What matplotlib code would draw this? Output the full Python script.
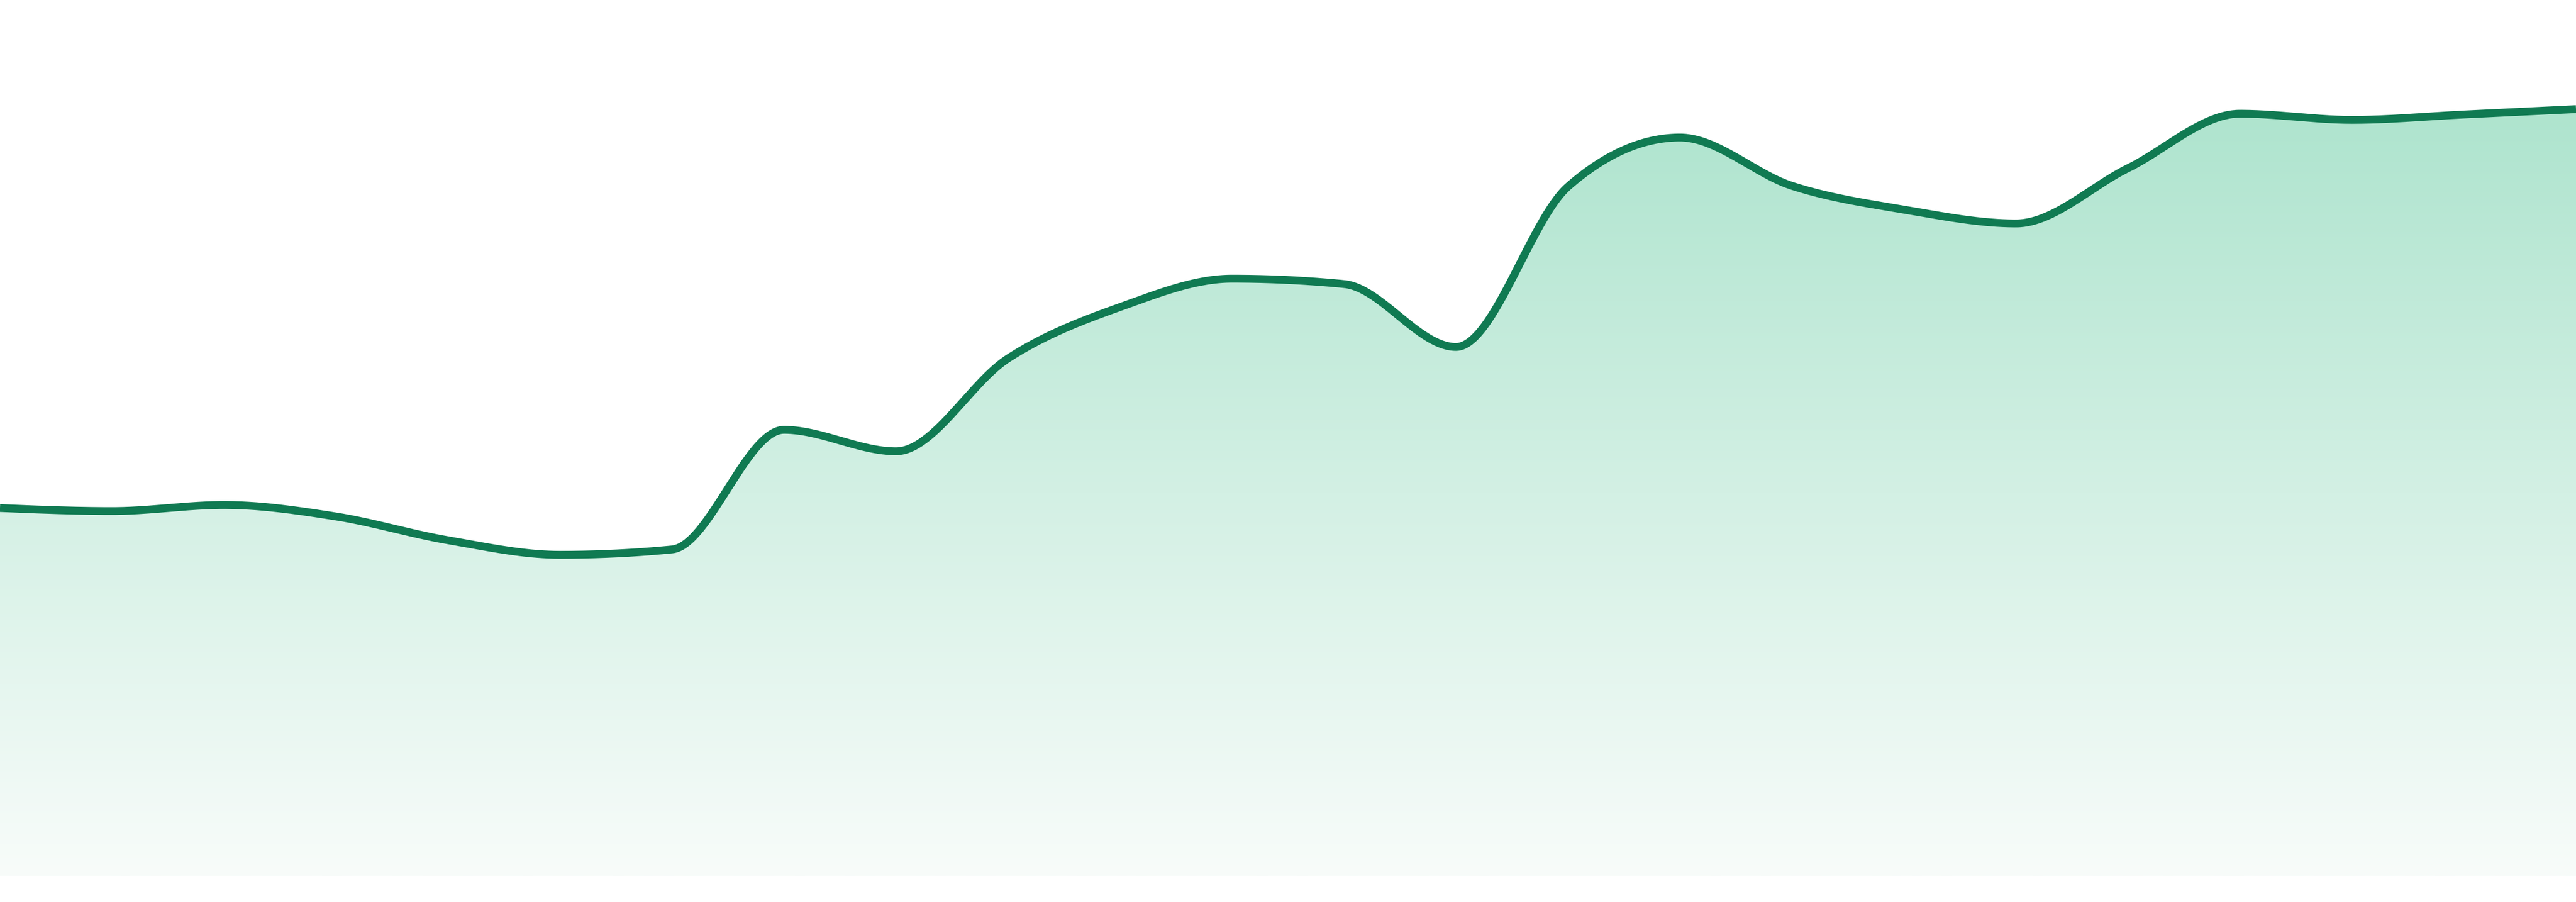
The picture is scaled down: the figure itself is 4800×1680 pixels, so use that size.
"""
Smooth area trend: monotone curve with a fading green fill, no axes.
Output: out.png (4800x1680)
"""
import numpy as np
import matplotlib
matplotlib.use('Agg')
import matplotlib.pyplot as plt
from matplotlib.path import Path
from matplotlib.patches import PathPatch

# === Data ===
steps = np.arange(24)
values = np.array([48.0, 47.6, 48.4, 46.9, 43.8, 41.9, 42.6, 58.2, 55.4, 67.5, 74.2, 77.9,
                   77.2, 69.0, 89.9, 96.3, 90.0, 86.9, 85.1, 92.3, 99.4, 98.6, 99.3, 100.0])
y_top = 114.23   # headroom above the largest value

line_color = '#107a52'
fill_top = '#aee4ce'
fill_bottom = '#f8fcfa'


def monotone_x(x, y, n=60):
    """Dense points along a monotone cubic (same rule as d3 curveMonotoneX)."""
    x = np.asarray(x, float)
    y = np.asarray(y, float)
    h = np.diff(x)
    s = np.diff(y) / h
    t = np.zeros_like(y)
    for i in range(1, len(y) - 1):
        p = (s[i-1] * h[i] + s[i] * h[i-1]) / (h[i-1] + h[i])
        t[i] = (np.sign(s[i-1]) + np.sign(s[i])) * min(abs(s[i-1]), abs(s[i]), 0.5 * abs(p))
    t[0] = (3 * s[0] - t[1]) / 2
    t[-1] = (3 * s[-1] - t[-2]) / 2

    u = np.linspace(0, 1, n)[:, None]
    xs, ys = [], []
    for i in range(len(x) - 1):
        dx = h[i] / 3
        px = np.array([x[i], x[i] + dx, x[i+1] - dx, x[i+1]])
        py = np.array([y[i], y[i] + dx * t[i], y[i+1] - dx * t[i+1], y[i+1]])
        b = np.hstack([(1-u)**3, 3*(1-u)**2*u, 3*(1-u)*u**2, u**3])
        xs.append(b @ px)
        ys.append(b @ py)
    return np.concatenate(xs), np.concatenate(ys)


cx, cy = monotone_x(steps, values)

fig = plt.figure(figsize=(48, 16.8), dpi=100)
ax = fig.add_axes([0, 48 / 1680, 1, 1632 / 1680])
ax.axis('off')

# --- gradient fill clipped to the area under the curve ---
verts = np.column_stack([np.r_[cx, cx[-1], cx[0]], np.r_[cy, 0, 0]])
area = PathPatch(Path(verts), facecolor='none', edgecolor='none')
ax.add_patch(area)

c0 = np.array(matplotlib.colors.to_rgb(fill_bottom))
c1 = np.array(matplotlib.colors.to_rgb(fill_top))
frac = np.linspace(1, 0, 400)[:, None]
grad = (c0 + (c1 - c0) * frac)[:, None, :]
img = ax.imshow(grad, extent=[steps[0], steps[-1], 0, values.max()],
                aspect='auto', interpolation='bilinear', zorder=1)
img.set_clip_path(area)

# --- line ---
ax.plot(cx, cy, color=line_color, linewidth=10.5, solid_capstyle='butt',
        solid_joinstyle='round', zorder=2)

# limits last: imshow resets them
ax.set_xlim(steps[0], steps[-1])
ax.set_ylim(0, y_top)

fig.savefig('out.png', dpi=100, facecolor='white')
plt.close()
